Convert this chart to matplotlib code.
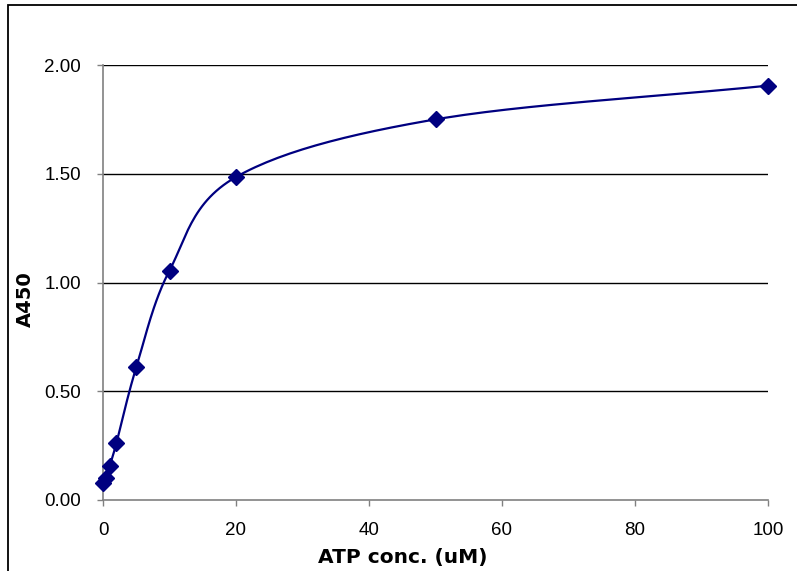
import numpy as np
import matplotlib
matplotlib.use('Agg')
import matplotlib.pyplot as plt
from matplotlib.patches import Rectangle

# datos
atp = [0, 0.5, 1, 2, 5, 10, 20, 50, 100]
a450 = [0.08, 0.10, 0.155, 0.26, 0.61, 1.055, 1.485, 1.75, 1.905]
yticks = [0.0, 0.5, 1.0, 1.5, 2.0]
xticks = [0, 20, 40, 60, 80, 100]

navy = '#000080'


# curva suavizada tipo Excel (Catmull-Rom entre los puntos)
def suavizar(x, y, n=30):
    x = np.asarray(x, float)
    y = np.asarray(y, float)
    px = np.concatenate([[2 * x[0] - x[1]], x, [2 * x[-1] - x[-2]]])
    py = np.concatenate([[2 * y[0] - y[1]], y, [2 * y[-1] - y[-2]]])
    xs, ys = [], []
    for i in range(1, len(px) - 2):
        t = np.linspace(0, 1, n)
        p0, p1, p2, p3 = px[i - 1], px[i], px[i + 1], px[i + 2]
        q0, q1, q2, q3 = py[i - 1], py[i], py[i + 1], py[i + 2]
        # puntos de control bezier
        c1x, c1y = p1 + (p2 - p0) / 6, q1 + (q2 - q0) / 6
        c2x, c2y = p2 - (p3 - p1) / 6, q2 - (q3 - q1) / 6
        bx = (1 - t) ** 3 * p1 + 3 * (1 - t) ** 2 * t * c1x + 3 * (1 - t) * t ** 2 * c2x + t ** 3 * p2
        by = (1 - t) ** 3 * q1 + 3 * (1 - t) ** 2 * t * c1y + 3 * (1 - t) * t ** 2 * c2y + t ** 3 * q2
        xs.extend(bx)
        ys.extend(by)
    return np.array(xs), np.array(ys)


fig = plt.figure(figsize=(7.97, 5.71), dpi=100)
W, H = 797, 571
ax = fig.add_axes([103 / W, 1 - 500 / H, (768 - 103) / W, (500 - 65) / H])

sx, sy = suavizar(atp, a450)
ax.plot(sx, sy, color=navy, lw=1.6, zorder=3)
ax.plot(atp, a450, ls='none', marker='D', ms=8, color=navy, zorder=4, clip_on=False)

ax.set_xlim(0, 100)
ax.set_ylim(0, 2.0)
ax.set_xticks(xticks)
ax.set_yticks(yticks)
ax.set_yticklabels(['%.2f' % v for v in yticks])
for v in yticks[1:]:
    ax.axhline(v, color='black', lw=1.0, zorder=1)

for s in ['top', 'right']:
    ax.spines[s].set_visible(False)
for s in ['left', 'bottom']:
    ax.spines[s].set_color('#808080')
    ax.spines[s].set_linewidth(1.2)

ax.tick_params(direction='out', length=4, width=1, color='#808080',
               labelsize=13.5, pad=12)
for lab in ax.get_xticklabels() + ax.get_yticklabels():
    lab.set_fontfamily('Liberation Sans')

fig.text(403 / W, 1 - 558 / H, 'ATP conc. (uM)', ha='center', va='center',
         fontsize=14.5, fontweight='bold')
fig.text(25 / W, 1 - 299 / H, 'A450', ha='center', va='center',
         fontsize=14, fontweight='bold', rotation=90)

# borde del area del grafico
fig.add_artist(Rectangle((8 / W, -0.2), 2, 1.2 - 5 / H, transform=fig.transFigure,
                         fill=False, edgecolor='black', lw=1.3))

fig.savefig('out.png', dpi=100)
